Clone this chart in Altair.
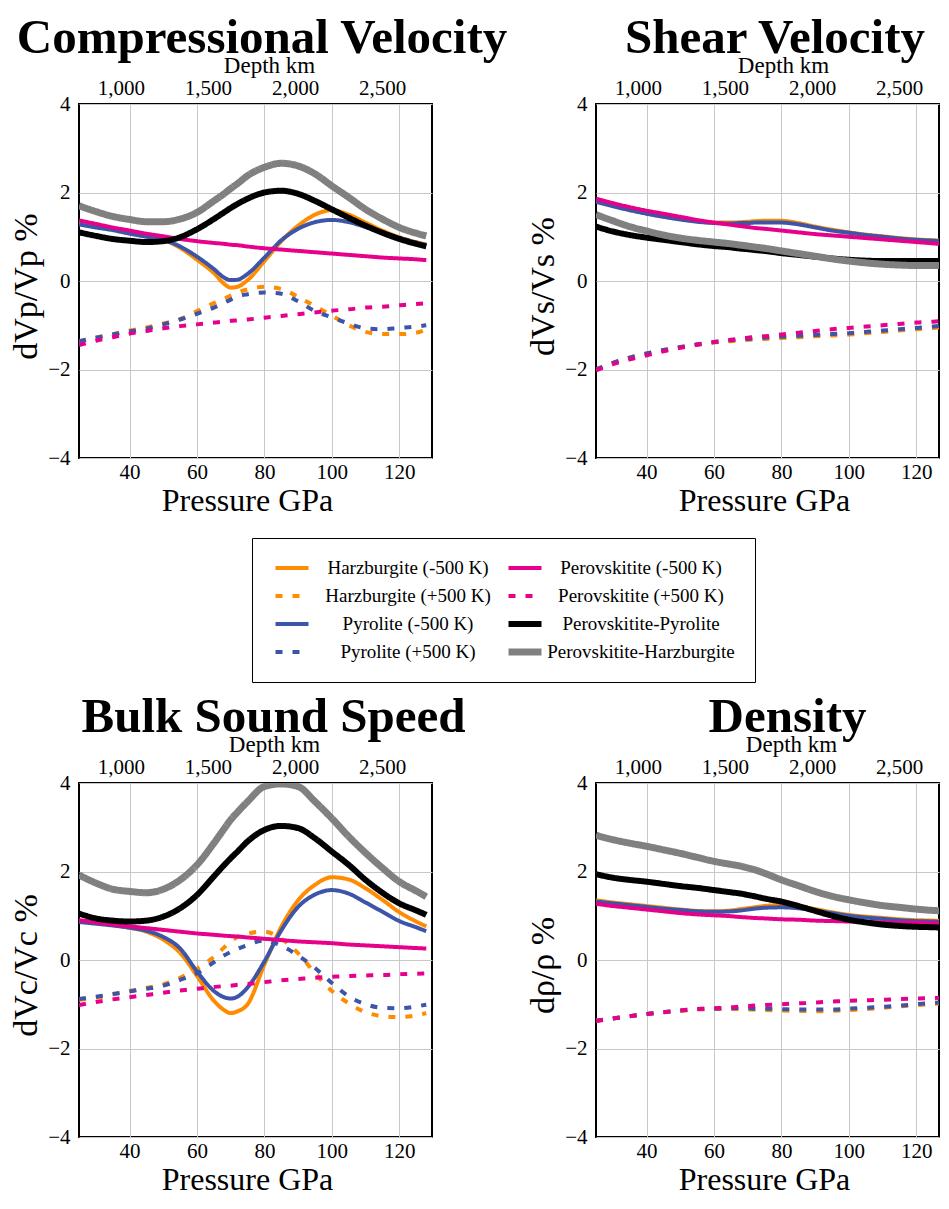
import altair as alt
import pandas as pd

# ---------------- data ----------------
PRESSURE = [25, 30, 35, 40, 45, 50, 55, 60, 65, 68, 70, 72, 75, 80, 85, 90, 95, 100, 105, 110, 115, 120, 125, 128]

SERIES = [
    "Harzburgite (-500 K)", "Harzburgite (+500 K)",
    "Pyrolite (-500 K)", "Pyrolite (+500 K)",
    "Perovskitite (-500 K)", "Perovskitite (+500 K)",
    "Perovskitite-Pyrolite", "Perovskitite-Harzburgite",
]

COLORS = {
    "Harzburgite (-500 K)": "#FF8C00", "Harzburgite (+500 K)": "#FF8C00",
    "Pyrolite (-500 K)": "#3D55A8", "Pyrolite (+500 K)": "#3D55A8",
    "Perovskitite (-500 K)": "#E6008A", "Perovskitite (+500 K)": "#E6008A",
    "Perovskitite-Pyrolite": "#000000", "Perovskitite-Harzburgite": "#808080",
}
DASHES = {s: ([7, 10] if "+500" in s else [1, 0]) for s in SERIES}
WIDTHS = {
    "Harzburgite (-500 K)": 4, "Harzburgite (+500 K)": 4,
    "Pyrolite (-500 K)": 4, "Pyrolite (+500 K)": 4,
    "Perovskitite (-500 K)": 4, "Perovskitite (+500 K)": 4,
    "Perovskitite-Pyrolite": 6, "Perovskitite-Harzburgite": 7,
}

X_TICKS = [40, 60, 80, 100, 120]
Y_TICKS = [-4, -2, 0, 2, 4]
DEPTH_TICKS = [1000, 1500, 2000, 2500]

VP = {
    "Harzburgite (-500 K)": [1.32, 1.25, 1.18, 1.10, 1.02, 0.93, 0.75, 0.48, 0.18, -0.06, -0.15, -0.13, 0.02, 0.45, 0.90, 1.25, 1.50, 1.60, 1.50, 1.32, 1.14, 0.99, 0.88, 0.83],
    "Harzburgite (+500 K)": [-1.36, -1.28, -1.20, -1.12, -1.05, -0.96, -0.86, -0.68, -0.50, -0.40, -0.33, -0.26, -0.19, -0.13, -0.18, -0.36, -0.57, -0.78, -1.00, -1.15, -1.20, -1.20, -1.17, -1.10],
    "Pyrolite (-500 K)": [1.28, 1.21, 1.15, 1.07, 1.00, 0.93, 0.78, 0.55, 0.27, 0.08, 0.02, 0.03, 0.16, 0.53, 0.92, 1.18, 1.33, 1.38, 1.33, 1.22, 1.10, 0.98, 0.87, 0.81],
    "Pyrolite (+500 K)": [-1.36, -1.28, -1.21, -1.14, -1.08, -0.98, -0.87, -0.74, -0.60, -0.50, -0.42, -0.35, -0.30, -0.26, -0.29, -0.46, -0.68, -0.82, -0.96, -1.07, -1.09, -1.06, -1.03, -1.00],
    "Perovskitite (-500 K)": [1.37, 1.29, 1.21, 1.14, 1.07, 1.01, 0.95, 0.90, 0.86, 0.84, 0.82, 0.81, 0.78, 0.74, 0.71, 0.68, 0.65, 0.62, 0.59, 0.56, 0.53, 0.51, 0.49, 0.47],
    "Perovskitite (+500 K)": [-1.45, -1.35, -1.27, -1.19, -1.13, -1.07, -1.02, -0.98, -0.94, -0.92, -0.90, -0.89, -0.87, -0.83, -0.79, -0.75, -0.71, -0.67, -0.64, -0.60, -0.58, -0.55, -0.52, -0.50],
    "Perovskitite-Pyrolite": [1.10, 1.02, 0.95, 0.91, 0.88, 0.90, 0.99, 1.17, 1.40, 1.55, 1.65, 1.74, 1.86, 2.00, 2.04, 1.97, 1.81, 1.62, 1.43, 1.25, 1.09, 0.95, 0.84, 0.78],
    "Perovskitite-Harzburgite": [1.70, 1.57, 1.46, 1.39, 1.34, 1.34, 1.40, 1.55, 1.81, 1.97, 2.09, 2.20, 2.38, 2.57, 2.66, 2.60, 2.42, 2.15, 1.89, 1.62, 1.40, 1.21, 1.08, 1.02],
}

VS = {
    "Harzburgite (-500 K)": [1.80, 1.70, 1.61, 1.53, 1.46, 1.40, 1.35, 1.32, 1.32, 1.33, 1.34, 1.35, 1.36, 1.36, 1.31, 1.23, 1.16, 1.10, 1.05, 1.01, 0.97, 0.94, 0.92, 0.91],
    "Harzburgite (+500 K)": [-2.00, -1.85, -1.73, -1.64, -1.56, -1.50, -1.44, -1.39, -1.36, -1.34, -1.33, -1.32, -1.31, -1.29, -1.27, -1.25, -1.23, -1.21, -1.18, -1.15, -1.12, -1.09, -1.06, -1.04],
    "Pyrolite (-500 K)": [1.79, 1.69, 1.60, 1.52, 1.45, 1.39, 1.34, 1.31, 1.30, 1.31, 1.31, 1.32, 1.32, 1.32, 1.28, 1.21, 1.14, 1.09, 1.04, 1.00, 0.96, 0.93, 0.91, 0.90],
    "Pyrolite (+500 K)": [-2.00, -1.85, -1.73, -1.64, -1.56, -1.49, -1.43, -1.38, -1.34, -1.32, -1.31, -1.30, -1.28, -1.26, -1.24, -1.22, -1.20, -1.18, -1.15, -1.12, -1.09, -1.06, -1.03, -1.01],
    "Perovskitite (-500 K)": [1.86, 1.76, 1.67, 1.59, 1.52, 1.45, 1.38, 1.32, 1.27, 1.24, 1.22, 1.20, 1.18, 1.14, 1.10, 1.06, 1.03, 1.00, 0.97, 0.94, 0.91, 0.88, 0.85, 0.83],
    "Perovskitite (+500 K)": [-2.02, -1.88, -1.77, -1.68, -1.59, -1.51, -1.44, -1.38, -1.33, -1.30, -1.28, -1.27, -1.25, -1.21, -1.17, -1.13, -1.09, -1.06, -1.03, -1.00, -0.97, -0.94, -0.92, -0.90],
    "Perovskitite-Pyrolite": [1.23, 1.12, 1.04, 0.98, 0.93, 0.88, 0.83, 0.79, 0.76, 0.73, 0.72, 0.70, 0.68, 0.63, 0.59, 0.55, 0.51, 0.48, 0.46, 0.45, 0.45, 0.45, 0.45, 0.45],
    "Perovskitite-Harzburgite": [1.50, 1.36, 1.23, 1.13, 1.04, 0.97, 0.92, 0.88, 0.84, 0.81, 0.79, 0.77, 0.74, 0.68, 0.62, 0.56, 0.50, 0.45, 0.41, 0.38, 0.36, 0.35, 0.35, 0.35],
}

VC = {
    "Harzburgite (-500 K)": [0.88, 0.84, 0.79, 0.73, 0.64, 0.46, 0.16, -0.36, -0.92, -1.13, -1.20, -1.16, -1.00, -0.10, 0.75, 1.35, 1.70, 1.87, 1.82, 1.62, 1.36, 1.08, 0.87, 0.76],
    "Harzburgite (+500 K)": [-0.90, -0.85, -0.78, -0.70, -0.63, -0.55, -0.40, -0.20, 0.07, 0.28, 0.42, 0.52, 0.60, 0.64, 0.48, 0.15, -0.30, -0.70, -0.98, -1.18, -1.27, -1.29, -1.25, -1.20],
    "Pyrolite (-500 K)": [0.86, 0.82, 0.78, 0.73, 0.66, 0.52, 0.26, -0.26, -0.70, -0.84, -0.87, -0.83, -0.62, -0.03, 0.67, 1.20, 1.48, 1.58, 1.50, 1.30, 1.09, 0.88, 0.74, 0.65],
    "Pyrolite (+500 K)": [-0.88, -0.83, -0.77, -0.71, -0.65, -0.58, -0.45, -0.30, -0.05, 0.10, 0.18, 0.25, 0.34, 0.44, 0.32, 0.10, -0.18, -0.52, -0.82, -1.00, -1.08, -1.09, -1.05, -1.01],
    "Perovskitite (-500 K)": [0.90, 0.85, 0.80, 0.76, 0.72, 0.68, 0.64, 0.60, 0.57, 0.55, 0.54, 0.53, 0.51, 0.48, 0.45, 0.42, 0.40, 0.38, 0.35, 0.33, 0.31, 0.29, 0.27, 0.26],
    "Perovskitite (+500 K)": [-1.02, -0.95, -0.89, -0.84, -0.79, -0.74, -0.69, -0.65, -0.61, -0.59, -0.58, -0.56, -0.54, -0.50, -0.46, -0.43, -0.40, -0.38, -0.36, -0.35, -0.34, -0.32, -0.31, -0.30],
    "Perovskitite-Pyrolite": [1.05, 0.94, 0.89, 0.87, 0.89, 0.98, 1.17, 1.47, 1.89, 2.14, 2.30, 2.45, 2.68, 2.94, 3.03, 2.98, 2.75, 2.45, 2.15, 1.81, 1.52, 1.28, 1.12, 1.02],
    "Perovskitite-Harzburgite": [1.92, 1.74, 1.60, 1.55, 1.52, 1.60, 1.81, 2.15, 2.64, 2.96, 3.17, 3.34, 3.58, 3.92, 3.98, 3.92, 3.58, 3.20, 2.79, 2.42, 2.08, 1.77, 1.56, 1.43],
}

RHO = {
    "Harzburgite (-500 K)": [1.35, 1.30, 1.26, 1.22, 1.18, 1.14, 1.11, 1.10, 1.12, 1.15, 1.17, 1.19, 1.22, 1.24, 1.21, 1.15, 1.08, 1.02, 0.98, 0.95, 0.92, 0.90, 0.89, 0.88],
    "Harzburgite (+500 K)": [-1.37, -1.32, -1.27, -1.22, -1.18, -1.15, -1.12, -1.11, -1.11, -1.11, -1.12, -1.12, -1.13, -1.14, -1.15, -1.16, -1.15, -1.13, -1.11, -1.08, -1.05, -1.02, -0.99, -0.98],
    "Pyrolite (-500 K)": [1.32, 1.28, 1.24, 1.20, 1.16, 1.13, 1.10, 1.09, 1.10, 1.12, 1.14, 1.16, 1.18, 1.19, 1.17, 1.12, 1.06, 1.00, 0.96, 0.93, 0.90, 0.88, 0.87, 0.86],
    "Pyrolite (+500 K)": [-1.37, -1.32, -1.27, -1.22, -1.18, -1.14, -1.11, -1.10, -1.09, -1.09, -1.09, -1.10, -1.10, -1.11, -1.12, -1.12, -1.12, -1.10, -1.08, -1.06, -1.03, -1.00, -0.97, -0.95],
    "Perovskitite (-500 K)": [1.27, 1.22, 1.18, 1.14, 1.10, 1.06, 1.03, 1.01, 0.99, 0.97, 0.96, 0.95, 0.94, 0.92, 0.91, 0.89, 0.88, 0.87, 0.86, 0.85, 0.84, 0.84, 0.83, 0.83],
    "Perovskitite (+500 K)": [-1.38, -1.32, -1.27, -1.22, -1.18, -1.14, -1.11, -1.09, -1.07, -1.05, -1.04, -1.03, -1.02, -1.00, -0.98, -0.96, -0.94, -0.92, -0.91, -0.90, -0.88, -0.87, -0.86, -0.85],
    "Perovskitite-Pyrolite": [1.94, 1.86, 1.81, 1.77, 1.72, 1.67, 1.63, 1.58, 1.53, 1.50, 1.47, 1.44, 1.39, 1.32, 1.22, 1.11, 1.00, 0.91, 0.85, 0.80, 0.77, 0.75, 0.74, 0.73],
    "Perovskitite-Harzburgite": [2.82, 2.72, 2.64, 2.57, 2.49, 2.41, 2.32, 2.23, 2.16, 2.12, 2.08, 2.04, 1.96, 1.81, 1.68, 1.55, 1.44, 1.36, 1.29, 1.23, 1.19, 1.15, 1.12, 1.11],
}

PANELS = [
    ("Compressional Velocity", "dVp/Vp %", VP),
    ("Shear Velocity", "dVs/Vs %", VS),
    ("Bulk Sound Speed", "dVc/Vc %", VC),
    ("Density", "d\u03c1/\u03c1 %", RHO),
]

# ---------------- chart ----------------
FONT = "Liberation Serif"
H = 354
W_LEFT, W_RIGHT = 353, 343          # right column is cut at the picture edge
PX_PER_GPA = 353 / (129.7 - 25)
PX_PER_KM = 353 / (2787 - 759)
# per panel layout tweaks: (width, title dx, depth-title x)
LAYOUT = [(W_LEFT, 6.5, 190), (W_RIGHT, 7.5, 187), (W_LEFT, 18, 195), (W_RIGHT, 20, 195)]

color_scale = alt.Scale(domain=SERIES, range=[COLORS[s] for s in SERIES])
dash_scale = alt.Scale(domain=SERIES, range=[DASHES[s] for s in SERIES])
width_scale = alt.Scale(type="ordinal", domain=SERIES, range=[WIDTHS[s] for s in SERIES])


def make_legend():
    return alt.Legend(
        title=None, orient="none", legendX=173, legendY=434, columns=2,
        symbolType="stroke", symbolSize=1089, labelFont=FONT, labelFontSize=19,
        labelColor="black", labelAlign="center", labelOffset=96, labelLimit=400,
        clipHeight=20, rowPadding=8, columnPadding=14, padding=20,
        strokeColor="black", fillColor="white",
    )


def make_panel(title, ytitle, values, with_legend, layout):
    width, title_dx, depth_title_x = layout
    rows = []
    for s in SERIES:
        for p, v in zip(PRESSURE, values[s]):
            rows.append({"P": p, "v": v, "series": s})
    df = pd.DataFrame(rows)
    leg = make_legend() if with_legend else None
    p_domain = [25, 25 + width / PX_PER_GPA]
    d_domain = [759, 759 + width / PX_PER_KM]
    lines = alt.Chart(df).mark_line(interpolate="monotone", clip=True).encode(
        x=alt.X("P:Q", scale=alt.Scale(domain=p_domain, nice=False, zero=False),
                axis=alt.Axis(values=X_TICKS, title="Pressure GPa", grid=True,
                              labelPadding=3, titlePadding=3, titleX=168, titleFontSize=32)),
        y=alt.Y("v:Q", scale=alt.Scale(domain=[-4, 4], nice=False),
                axis=alt.Axis(values=Y_TICKS, title=ytitle, grid=True,
                              labelPadding=9, titlePadding=4.5, titleFontSize=34,
                              titleY=182)),
        color=alt.Color("series:N", scale=color_scale, legend=leg),
        strokeDash=alt.StrokeDash("series:N", scale=dash_scale, legend=leg),
        strokeWidth=alt.StrokeWidth("series:N", scale=width_scale, legend=leg),
    )
    depth = alt.Chart(pd.DataFrame({"depth": DEPTH_TICKS})).mark_point(opacity=0).encode(
        x=alt.X("depth:Q", scale=alt.Scale(domain=d_domain, nice=False, zero=False),
                axis=alt.Axis(orient="top", values=DEPTH_TICKS, format=",d", title="Depth km",
                              grid=False, titleFontSize=23, labelPadding=6, titlePadding=0,
                              titleX=depth_title_x))
    )
    return alt.layer(lines, depth).resolve_scale(x="independent").properties(
        width=width, height=H, title=alt.Title(title, offset=-9, dx=title_dx)
    )


panels = [
    make_panel(t, yt, vals, i == 0, LAYOUT[i])
    for i, (t, yt, vals) in enumerate(PANELS)
]

chart = alt.concat(
    *panels, columns=2, spacing={"row": 325, "column": 164}, bounds="flush"
).resolve_scale(
    color="independent", strokeDash="independent", strokeWidth="independent"
).properties(
    padding={"left": 0, "top": 5, "right": 0, "bottom": 0}
).configure_axis(
    labelFont=FONT, titleFont=FONT, labelFontSize=21, titleFontSize=33,
    titleFontWeight="normal", labelColor="black", titleColor="black",
    gridColor="#c8c8c8", gridWidth=1, domain=False, ticks=False,
).configure_view(
    stroke="black", strokeWidth=2
).configure_title(
    font=FONT, fontSize=49, fontWeight="bold", anchor="middle", color="black"
)

chart.save("out.html", embed_options={"renderer": "svg", "actions": False})
